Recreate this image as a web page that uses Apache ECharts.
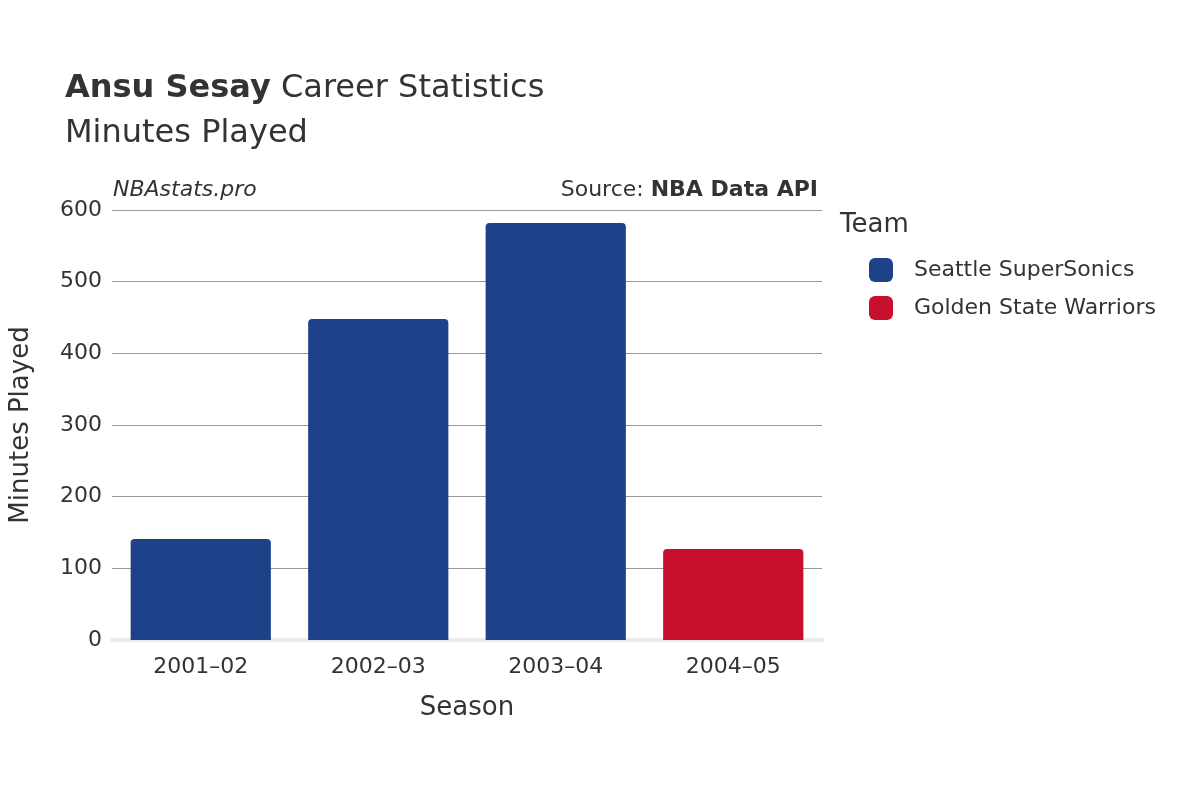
<!DOCTYPE html>
<html>
<head>
<meta charset="utf-8">
<script src="https://cdn.jsdelivr.net/npm/echarts@6/dist/echarts.min.js"></script>
<style>html,body{margin:0;padding:0;background:#fff}#chart{width:1200px;height:800px}</style>
</head>
<body>
<div id="chart"></div>
<script>
// 数据
const seasons = ['2001–02', '2002–03', '2003–04', '2004–05']
const sonics = [141, 448, 582, null]
const warriors = [null, null, null, 127]
const yTicks = [0, 100, 200, 300, 400, 500, 600]

const font = 'DejaVu Sans'
const chart = echarts.init(document.getElementById('chart'))
chart.setOption({
    textStyle: { fontFamily: font },
    title: [
        { text: '{b|Ansu Sesay} Career Statistics', left: 60, top: 68,
          textStyle: { fontSize: 32, fontWeight: 'normal', color: '#333', fontFamily: font,
            rich: { b: { fontSize: 32, fontWeight: 'bold', color: '#333', fontFamily: font } } } },
        { text: 'Minutes Played', left: 60, top: 113,
          textStyle: { fontSize: 32, fontWeight: 'normal', color: '#333', fontFamily: font } }
    ],
    graphic: [
        { type: 'text', left: 113, top: 179, style: { text: 'NBAstats.pro', font: 'italic 22px DejaVu Sans', fill: '#333' } },
        { type: 'text', right: 382, top: 179, style: { text: '{n|Source: }{b|NBA Data API}', font: '22px DejaVu Sans', fill: '#333',
            rich: { n: { font: '22px DejaVu Sans', fill: '#333' }, b: { font: 'bold 22px DejaVu Sans', fill: '#333' } } } },
        { type: 'text', left: 840, top: 212, style: { text: 'Team', font: '26px DejaVu Sans', fill: '#333' } }
    ],
    legend: {
        orient: 'vertical', left: 864, top: 253, itemWidth: 24, itemHeight: 24, itemGap: 14,
        icon: 'roundRect',
        textStyle: { fontSize: 22, color: '#333', fontFamily: font, padding: [0, 0, 0, 16] },
        data: ['Seattle SuperSonics', 'Golden State Warriors']
    },
    grid: { left: 108, right: 378, top: 210, bottom: 160 },
    xAxis: {
        type: 'category', data: seasons, name: 'Season', nameLocation: 'middle', nameGap: 55,
        nameTextStyle: { fontSize: 26, color: '#333' },
        axisTick: { show: false },
        axisLine: { lineStyle: { color: '#ebebeb', width: 4 } },
        axisLabel: { fontSize: 22, color: '#333', margin: 16 }
    },
    yAxis: {
        type: 'value', min: 0, max: 600, interval: 100, name: 'Minutes Played',
        nameLocation: 'middle', nameGap: 78, nameTextStyle: { fontSize: 26, color: '#333' },
        axisLabel: { fontSize: 22, color: '#333', margin: 10 },
        splitLine: { lineStyle: { color: '#999', width: 1 } }
    },
    series: [
        { name: 'Seattle SuperSonics', type: 'bar', stack: 't', data: sonics, barWidth: '79%',
          itemStyle: { color: '#1d428a', borderRadius: [4, 4, 0, 0] } },
        { name: 'Golden State Warriors', type: 'bar', stack: 't', data: warriors, barWidth: '79%',
          itemStyle: { color: '#c8102e', borderRadius: [4, 4, 0, 0] } }
    ]
})
</script>
</body>
</html>
